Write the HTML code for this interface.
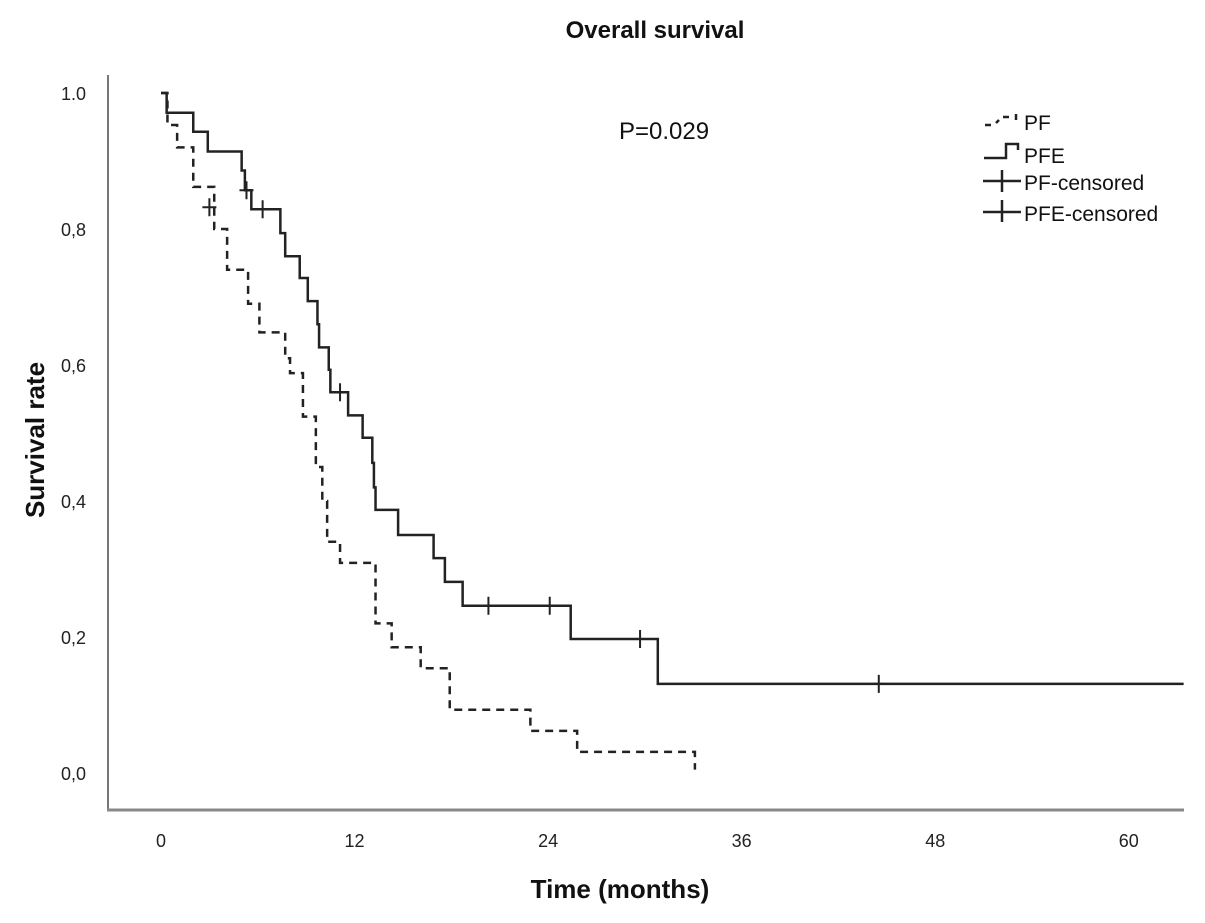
<!DOCTYPE html>
<html><head><meta charset="utf-8"><style>
body{margin:0;background:#fff;}
svg{display:block;font-family:"Liberation Sans",sans-serif;}
</style></head><body>
<svg id="chart" width="1205" height="923">
<text x="655" y="38" text-anchor="middle" font-size="24" font-weight="bold" fill="#111">Overall survival</text>
<text x="664" y="139" text-anchor="middle" font-size="24" fill="#111">P=0.029</text>
<line x1="108" y1="75" x2="108" y2="811" stroke="#777" stroke-width="2"/>
<line x1="107" y1="810" x2="1184" y2="810" stroke="#888" stroke-width="3"/>
<text x="620" y="898" text-anchor="middle" font-size="26" font-weight="bold" fill="#111">Time (months)</text>
<text transform="translate(44,440) rotate(-90)" text-anchor="middle" font-size="26" font-weight="bold" fill="#111">Survival rate</text>
<g id="xt"></g>
<g id="yt"></g>
<g id="series"></g>
<g font-size="21" fill="#111">
<path d="M985 125h6M996 123l3 -3M1003 117h6M1016 114v6" stroke="#222" stroke-width="2.5" fill="none"/>
<text x="1024" y="130">PF</text>
<path d="M984 158h22v-14h12v6" stroke="#222" stroke-width="2.5" fill="none"/>
<text x="1024" y="163">PFE</text>
<path d="M983 181h38M1002 170v22" stroke="#222" stroke-width="2.5" fill="none"/>
<text x="1024" y="190">PF-censored</text>
<path d="M983 212h38M1002 200v22" stroke="#222" stroke-width="2.5" fill="none"/>
<text x="1024" y="221">PFE-censored</text>
</g>
</svg>
<script>
const xTicks=[0,12,24,36,48,60];
const yTicks=[0,0.2,0.4,0.6,0.8,1.0];
const yTickLabels=["0,0","0,2","0,4","0,6","0,8","1.0"];
const pfTimes=[0,0.4,1.0,2.0,3.3,4.1,5.4,6.1,7.7,8.0,8.8,9.6,10.0,10.3,11.1,13.3,14.3,16.1,17.9,22.9,25.8,33.1];
const pfSurv=[1,0.953,0.92,0.862,0.80,0.74,0.69,0.648,0.61,0.588,0.524,0.45,0.40,0.34,0.309,0.22,0.185,0.154,0.093,0.062,0.031,0.005];
const pfEnd=33.1;
const pfeTimes=[0,0.35,2.0,2.9,5.0,5.2,5.6,7.4,7.7,8.6,9.1,9.7,9.8,10.4,10.5,11.6,12.5,13.1,13.2,13.3,14.7,16.9,17.6,18.7,25.4,30.8];
const pfeSurv=[1,0.971,0.943,0.914,0.886,0.857,0.829,0.794,0.76,0.728,0.694,0.66,0.626,0.593,0.56,0.526,0.493,0.456,0.42,0.387,0.35,0.316,0.281,0.246,0.197,0.131];
const pfeEnd=63.4;
const pfCensT=[3.0];
const pfCensS=[0.832];
const pfeCensT=[5.3,6.3,11.1,20.3,24.1,29.7,44.5];
const pfeCensS=[0.857,0.829,0.56,0.246,0.246,0.197,0.131];
const NS='http://www.w3.org/2000/svg';
const X=t=>161+t*16.13;
const Y=s=>773-s*680;
const xt=document.getElementById('xt'),yt=document.getElementById('yt'),sg=document.getElementById('series');
xTicks.forEach(v=>{const e=document.createElementNS(NS,'text');


e.setAttribute('x',X(v));e.setAttribute('y',847);e.setAttribute('text-anchor','middle');e.setAttribute('font-size','18');e.setAttribute('fill','#222');e.textContent=v;xt.appendChild(e);});
yTicks.forEach((v,i)=>{const e=document.createElementNS(NS,'text');


e.setAttribute('x',86);e.setAttribute('y',Y(v)+7);e.setAttribute('text-anchor','end');e.setAttribute('font-size','18');e.setAttribute('fill','#222');e.textContent=yTickLabels[i];yt.appendChild(e);});
function step(ts,ss,end){let d='M'+X(ts[0])+' '+Y(ss[0]);for(let i=1;i<ts.length;i++){d+=' H'+X(ts[i])+' V'+Y(ss[i]);}d+=' H'+X(end);return d;}
const p1=document.createElementNS(NS,'path');


p1.setAttribute('d',step(pfTimes,pfSurv,pfEnd));p1.setAttribute('fill','none');p1.setAttribute('stroke','#222');p1.setAttribute('stroke-width','2.5');p1.setAttribute('stroke-dasharray','8,6');sg.appendChild(p1);
const p2=document.createElementNS(NS,'path');


p2.setAttribute('d',step(pfeTimes,pfeSurv,pfeEnd));p2.setAttribute('fill','none');p2.setAttribute('stroke','#222');p2.setAttribute('stroke-width','2.5');sg.appendChild(p2);
function cens(ts,ss,name){ts.forEach((t,i)=>{const e=document.createElementNS(NS,'path');


const x=X(t),y=Y(ss[i]);e.setAttribute('d','M'+(x-7)+' '+y+'h14M'+x+' '+(y-9)+'v18');e.setAttribute('stroke','#222');e.setAttribute('stroke-width','2');sg.appendChild(e);});}
cens(pfCensT,pfCensS,'pf-censor-mark');
cens(pfeCensT,pfeCensS,'pfe-censor-mark');
</script>
</body></html>
